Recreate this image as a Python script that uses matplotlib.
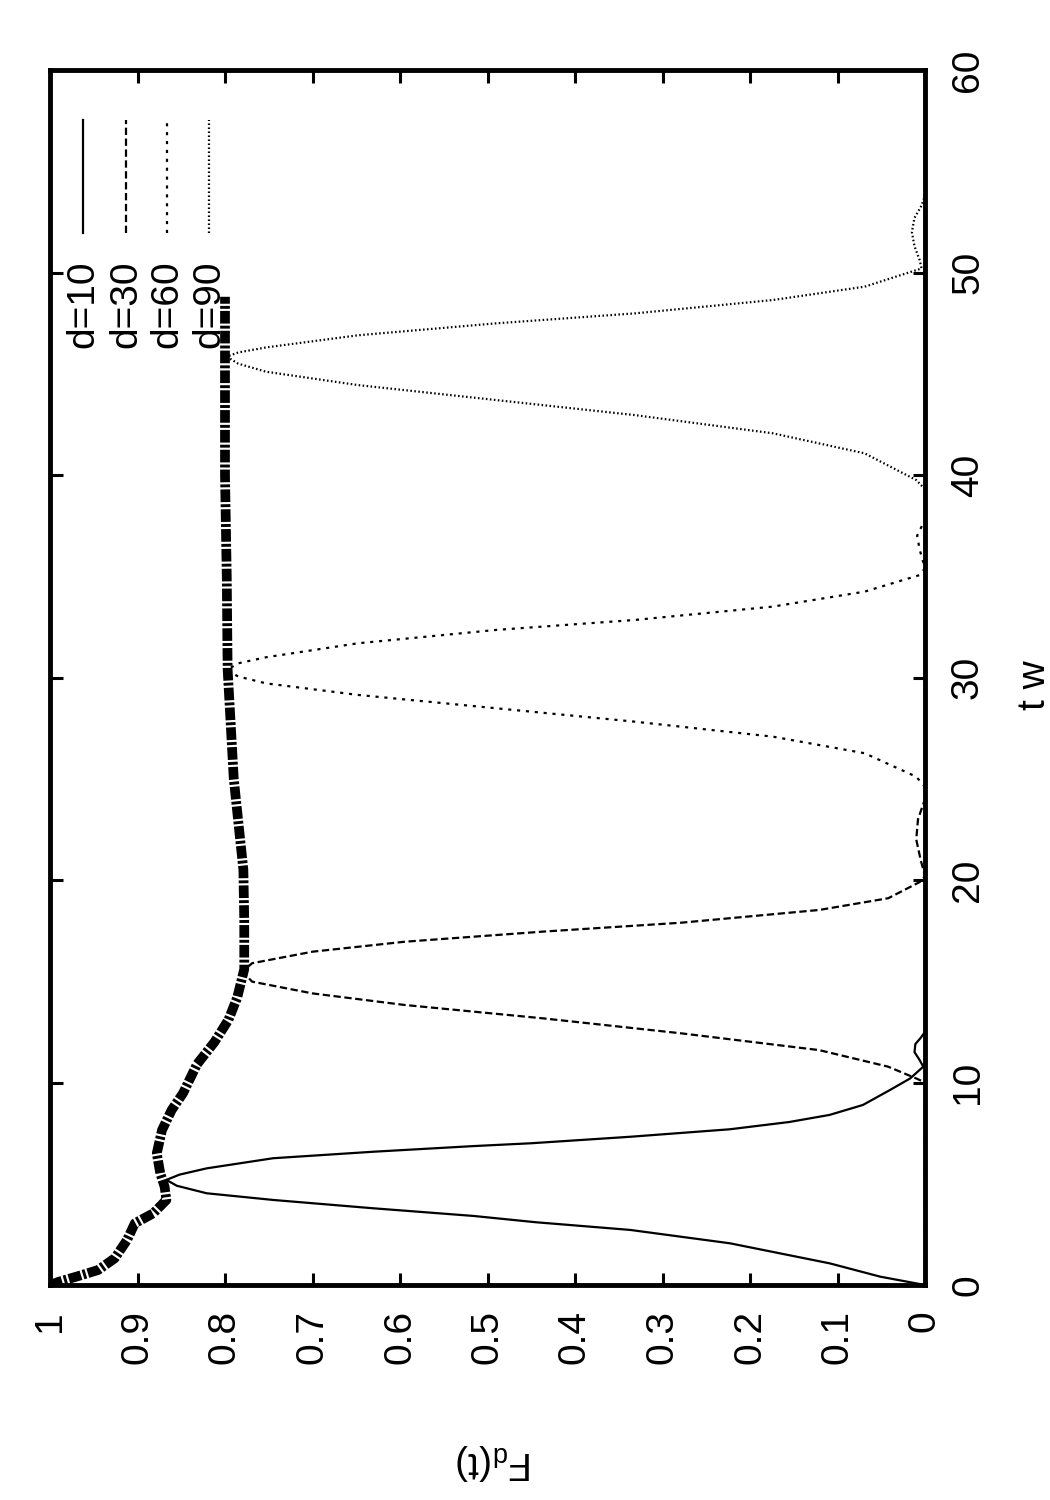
import matplotlib
matplotlib.use("Agg")
import matplotlib.pyplot as plt

# Data: time t w and fidelity F_d(t)
t_d10 = [0, 0.41, 1.07, 2.06, 2.72, 3.1, 3.41, 3.79, 4.2, 4.53, 4.9, 5.19, 5.45, 5.76, 6.26,
         6.58, 6.86, 7.0, 7.32, 7.69, 8.05, 8.4, 8.89, 9.63, 10.2, 10.78, 11.1, 11.5, 11.9,
         12.2, 12.5, 60]
f_d10 = [0, 0.051, 0.109, 0.223, 0.337, 0.445, 0.516, 0.631, 0.745, 0.821, 0.855, 0.867,
         0.852, 0.821, 0.745, 0.631, 0.516, 0.45, 0.337, 0.223, 0.155, 0.109, 0.071, 0.04,
         0.017, 0.002, 0.006, 0.012, 0.011, 0.005, 0.0, 0.0]

t_d30 = [0, 10.0, 10.2, 10.78, 11.6, 12.43, 13.17, 13.83, 14.4, 14.98, 15.3, 15.6, 15.89,
         16.46, 16.95, 17.45, 17.89, 18.52, 19.1, 19.9, 20.2, 21.0, 22.0, 23.0, 24.0, 60]
f_d30 = [0, 0.0, 0.01, 0.042, 0.121, 0.279, 0.437, 0.595, 0.70, 0.769, 0.776, 0.777, 0.769,
         0.70, 0.595, 0.437, 0.279, 0.121, 0.042, 0.006, 0.0, 0.005, 0.01, 0.008, 0.0, 0.0]

t_d60 = [0, 24.6, 25.1, 26.26, 27.08, 27.82, 28.48, 29.14, 29.71, 30.05, 30.37, 30.7, 31.0,
         31.69, 32.35, 32.84, 33.5, 34.24, 35.06, 35.4, 36.3, 37.0, 37.8, 60]
f_d60 = [0, 0.0, 0.01, 0.069, 0.174, 0.332, 0.49, 0.648, 0.753, 0.785, 0.798, 0.785, 0.753,
         0.648, 0.49, 0.332, 0.174, 0.069, 0.006, 0.0, 0.006, 0.009, 0.0, 0.0]

t_d90 = [0, 39.3, 39.75, 41.07, 42.06, 42.96, 43.7, 44.44, 45.1, 45.5, 45.84, 46.05, 46.3,
         46.9, 47.49, 47.98, 48.64, 49.3, 50.2, 50.6, 51.3, 52.0, 52.7, 53.3, 53.8, 60]
f_d90 = [0, 0.0, 0.01, 0.069, 0.174, 0.332, 0.49, 0.648, 0.753, 0.785, 0.798, 0.785, 0.753,
         0.648, 0.49, 0.332, 0.174, 0.069, 0.004, 0.006, 0.012, 0.015, 0.012, 0.004, 0.0, 0.0]

t_env = [0, 0.16, 0.41, 0.74, 1.32, 2.22, 3.05, 3.54, 4.2, 4.85, 5.52, 6.5, 7.65, 8.64, 9.47,
         10.9, 12.0, 13.1, 14.2, 15.6, 18.0, 20.5, 25.0, 30.4, 35.0, 40.0, 45.8, 48.8]
f_env = [1.0, 0.99, 0.97, 0.945, 0.926, 0.912, 0.903, 0.882, 0.867, 0.869, 0.874, 0.878,
         0.872, 0.861, 0.848, 0.832, 0.812, 0.796, 0.786, 0.778, 0.778, 0.779, 0.79, 0.797,
         0.798, 0.80, 0.80, 0.80]

f_ticks = [0, 0.1, 0.2, 0.3, 0.4, 0.5, 0.6, 0.7, 0.8, 0.9, 1.0]
f_tick_labels = ["0", "0.1", "0.2", "0.3", "0.4", "0.5", "0.6", "0.7", "0.8", "0.9", "1"]
t_ticks = [0, 10, 20, 30, 40, 50, 60]
legend_labels = ["d=10", "d=30", "d=60", "d=90"]

plt.rcParams["font.family"] = ["Liberation Sans", "DejaVu Sans"]
plt.rcParams["mathtext.default"] = "regular"

styles = [
    dict(linestyle="-"),
    dict(dashes=(3.3, 1.6)),
    dict(dashes=(1.4, 2.6)),
    dict(dashes=(0.7, 1.1)),
]
series = [(t_d10, f_d10), (t_d30, f_d30), (t_d60, f_d60), (t_d90, f_d90)]

fig = plt.figure(figsize=(10.5, 15), dpi=100)
ax = fig.add_axes([50 / 1050, 215 / 1500, 875 / 1050, 1215 / 1500])

# the whole plot is drawn turned by 90 degrees: F runs right-to-left, t bottom-to-top
for (tt, ff), st in zip(series, styles):
    ax.plot(ff, tt, color="black", lw=1.6, solid_joinstyle="round", **st)
ax.plot(f_env, t_env, color="black", lw=7, dashes=(1.3, 0.22, 0.3, 0.22))

ax.set_xlim(1, 0)
ax.set_ylim(0, 60)
ax.set_xticks(f_ticks)
ax.set_xticklabels(f_tick_labels)
ax.set_yticks(t_ticks)
for sp in ax.spines.values():
    sp.set_linewidth(3.5)

ax.tick_params(axis="both", direction="in", length=9, width=2.2, labelsize=28)
ax.tick_params(axis="x", top=True, bottom=True, labelrotation=90, pad=18)
ax.tick_params(axis="y", left=True, right=True, labelleft=False, labelright=True,
               labelrotation=90, pad=18)
for lbl in ax.get_yticklabels():
    lbl.set_va("center")

# hand-drawn legend, turned like the rest
leg_x = [0.0377, 0.0869, 0.1337, 0.1817]
for x, st, name in zip(leg_x, styles, legend_labels):
    ax.plot([x, x], [0.866, 0.959], color="black", lw=1.6, transform=ax.transAxes, **st)
    ax.text(x, 0.843, name, rotation=90, ha="center", va="top", fontsize=28,
            transform=ax.transAxes)

fig.text(1035 / 1050, 1 - 685 / 1500, "t w", rotation=90, ha="center", va="center",
         fontsize=28)
fig.text(495 / 1050, 1 - 1462 / 1500, "F$_d$(t)", rotation=180, ha="center", va="center",
         fontsize=28)

fig.savefig("out.png", dpi=100)
